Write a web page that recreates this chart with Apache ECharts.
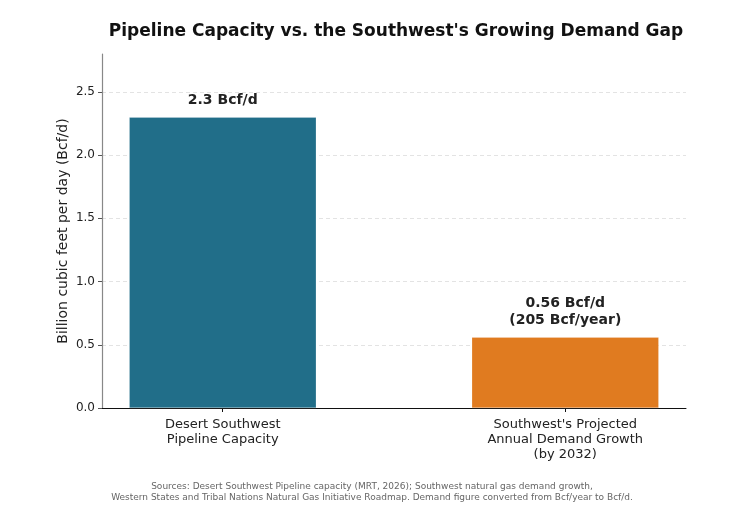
<!DOCTYPE html>
<html>
<head>
<meta charset="utf-8">
<script src="https://cdn.jsdelivr.net/npm/echarts@6/dist/echarts.min.js"></script>
<style>
html,body{margin:0;padding:0;background:#fff;}
#chart{width:750px;height:511px;}
</style>
</head>
<body>
<div id="chart"></div>
<script>
var categories = ["Desert Southwest\nPipeline Capacity", "Southwest's Projected\nAnnual Demand Growth\n(by 2032)"];
var positions = [0, 1];
var values = [2.3, 0.56];
var valueLabels = ["2.3 Bcf/d", "0.56 Bcf/d\n(205 Bcf/year)"];
var barColors = ["#216e89", "#e07b20"];
var yTicks = [0, 0.5, 1.0, 1.5, 2.0, 2.5];
var titleText = "Pipeline Capacity vs. the Southwest's Growing Demand Gap";
var yAxisName = "Billion cubic feet per day (Bcf/d)";
var sourceText = "Sources: Desert Southwest Pipeline capacity (MRT, 2026); Southwest natural gas demand growth,\nWestern States and Tribal Nations Natural Gas Initiative Roadmap. Demand figure converted from Bcf/year to Bcf/d.";

var font = "DejaVu Sans";
var chart = echarts.init(document.getElementById('chart'));
chart.setOption({
  animation: false,
  backgroundColor: '#fff',
  title: {
    text: titleText,
    left: 391, top: 18, textAlign: 'center',
    textStyle: {fontFamily: font, fontSize: 17, fontWeight: 'bold', color: '#111'}
  },
  grid: {left: 102, right: 64, top: 54, bottom: 103},
  xAxis: {
    type: 'value', min: -0.3525, max: 1.3525,
    axisLine: {show: true, onZero: false, lineStyle: {color: '#111', width: 1}},
    axisTick: {show: true, customValues: positions, length: 4, lineStyle: {color: '#111'}},
    axisLabel: {
      show: true, customValues: positions, margin: 9,
      fontFamily: font, fontSize: 13, color: '#222', lineHeight: 15,
      formatter: function (v) { return categories[Math.round(v)]; }
    },
    splitLine: {show: false}
  },
  yAxis: {
    type: 'value', min: 0, max: 2.8,
    name: yAxisName, nameLocation: 'middle', nameGap: 32, nameMoveOverlap: false,
    nameTextStyle: {fontFamily: font, fontSize: 14, color: '#222'},
    axisLine: {show: true, onZero: false, lineStyle: {color: '#888', width: 1.2}},
    axisTick: {show: true, customValues: yTicks, length: 4, lineStyle: {color: '#555'}},
    axisLabel: {
      customValues: yTicks, fontFamily: font, fontSize: 12, color: '#222', margin: 7,
      formatter: function (v) { return v.toFixed(1); }
    },
    splitLine: {show: false}
  },
  series: [{
    type: 'bar',
    barWidth: 187,
    data: positions.map(function (p, i) {
      return {value: [p, values[i]], itemStyle: {color: barColors[i]},
              label: {formatter: valueLabels[i]}};
    }),
    itemStyle: {borderColor: 'rgba(255,255,255,0.4)', borderWidth: 0.5},
    label: {
      show: true, position: 'top', distance: 8,
      fontFamily: font, fontSize: 14, fontWeight: 'bold', color: '#222', lineHeight: 17,
      align: 'center'
    },
    markLine: {
      silent: true, symbol: 'none', label: {show: false},
      lineStyle: {color: '#dcdcdc', type: [4, 3], width: 0.8},
      data: yTicks.filter(function (t) { return t > 0; }).map(function (t) { return {yAxis: t}; }),
      z: -1
    },
    z: 2
  }],
  graphic: [{
    type: 'text', x: 372, y: 481,
    style: {
      text: sourceText, textAlign: 'center',
      font: '9px "DejaVu Sans"', fill: '#666', lineHeight: 11
    }
  }]
});
</script>
</body>
</html>
